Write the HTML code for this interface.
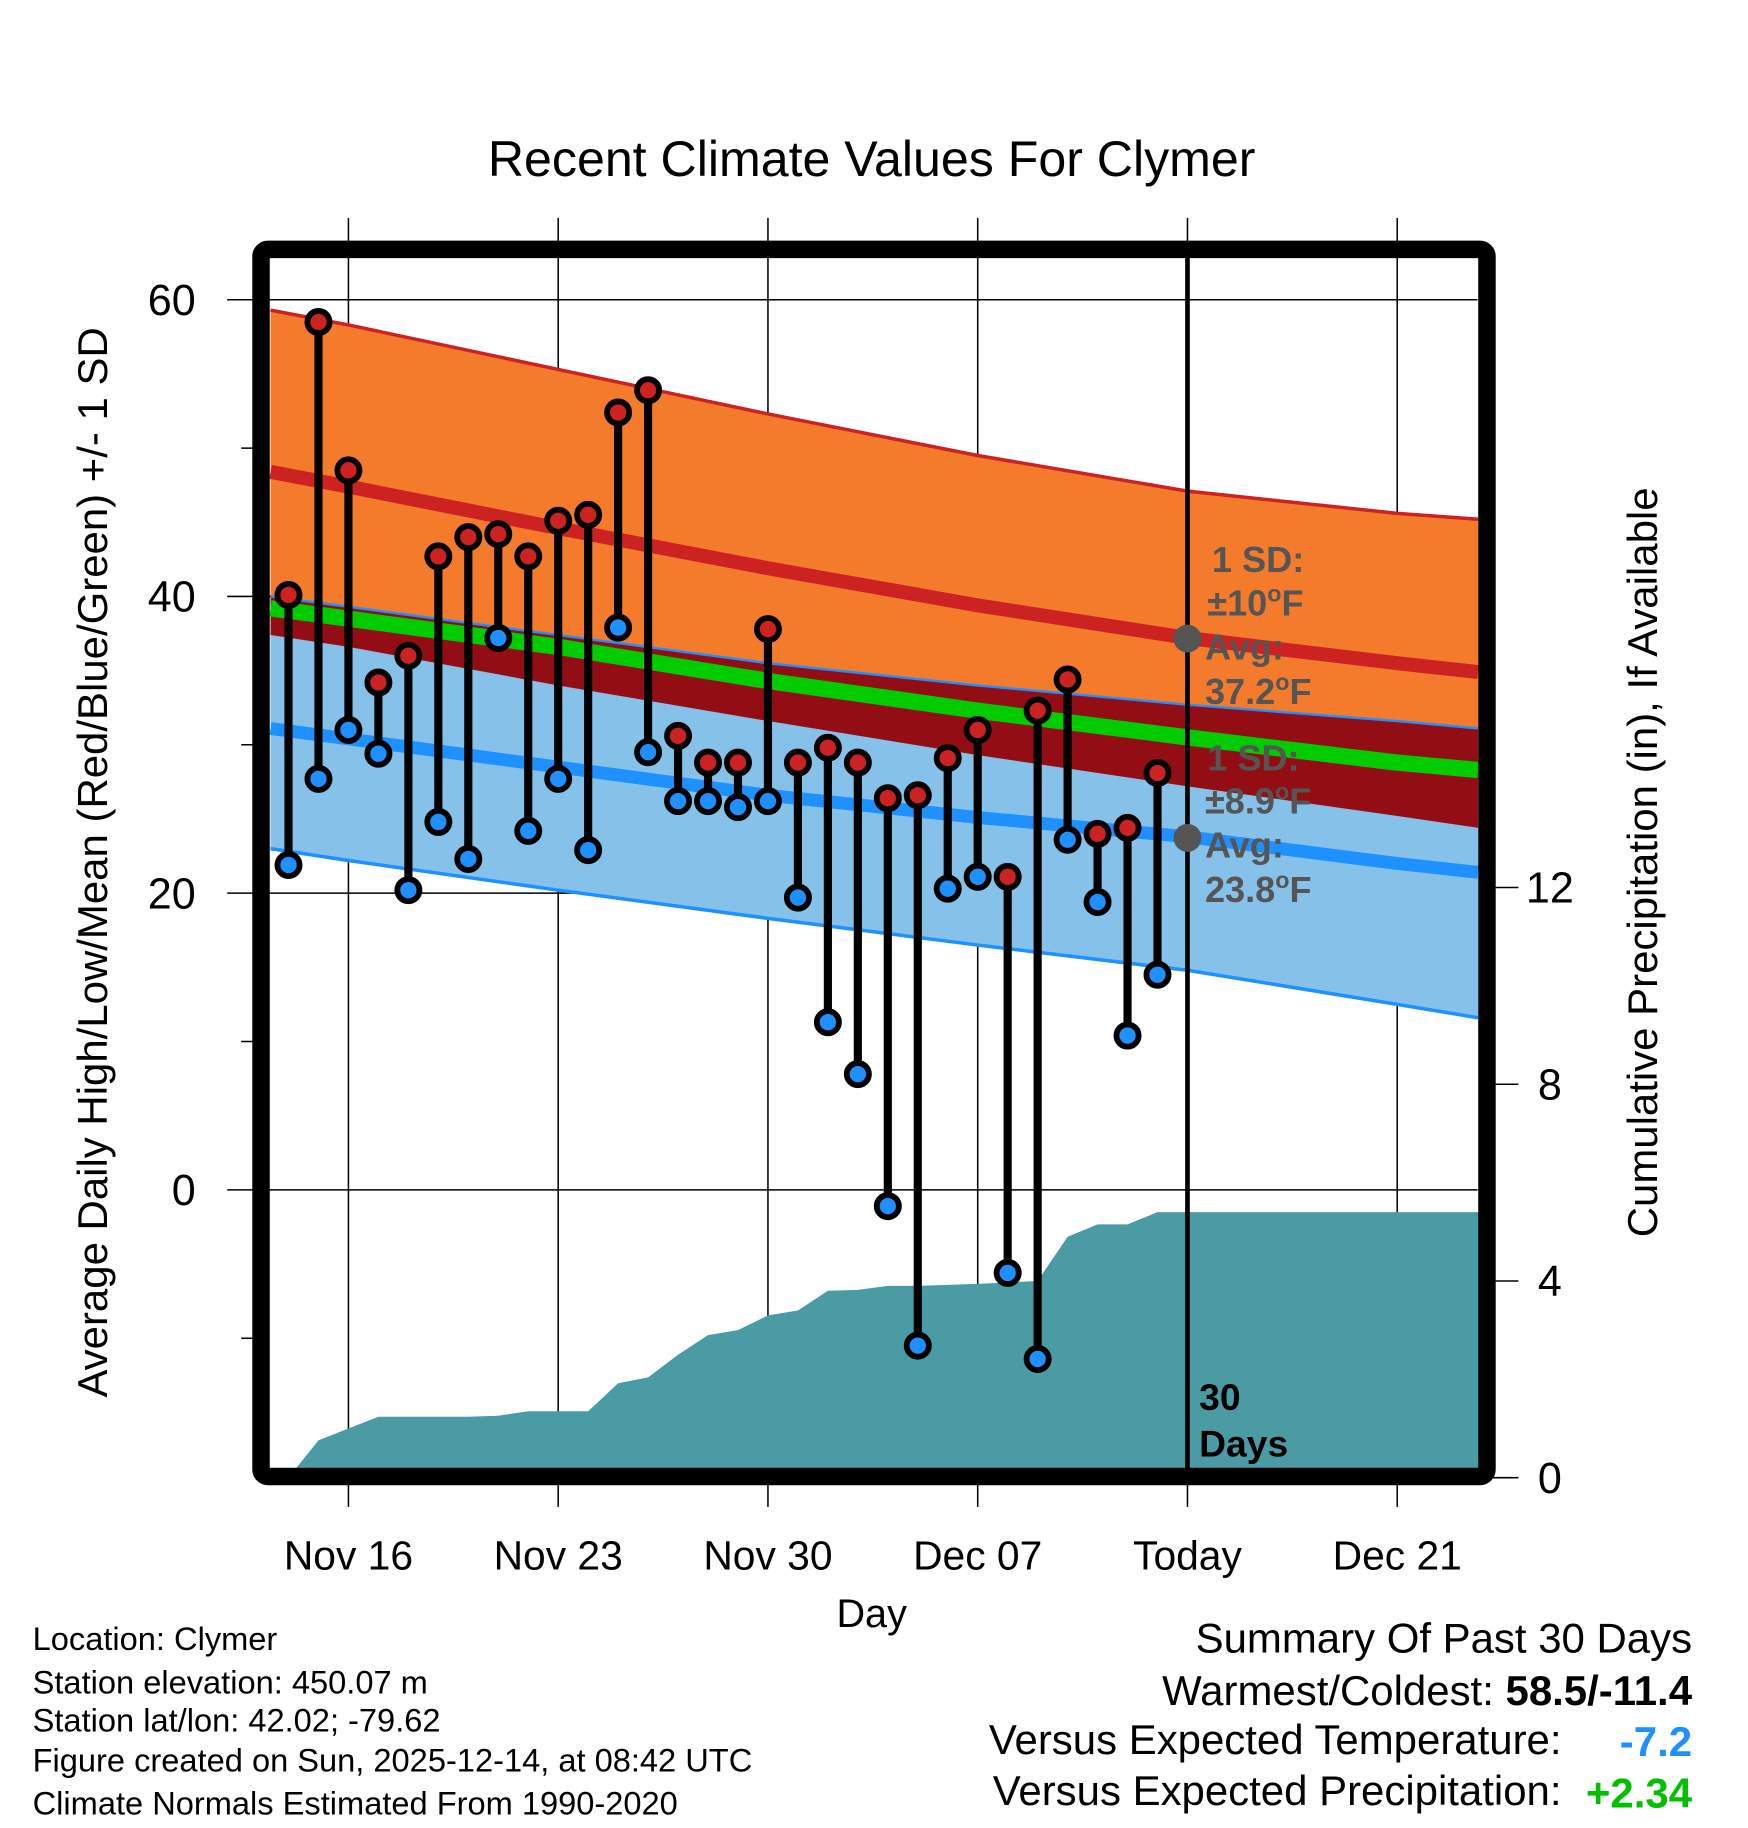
<!DOCTYPE html>
<html><head><meta charset="utf-8"><style>
html,body{margin:0;padding:0;background:#fff}
svg{display:block;font-family:"Liberation Sans",Arial,sans-serif}
</style></head><body>
<svg id="chart" width="1748" height="1828" viewBox="0 0 1500 1568.6" preserveAspectRatio="none" xmlns="http://www.w3.org/2000/svg">
<defs><clipPath id="plotclip"><rect x="231" y="221" width="1038" height="1039"/></clipPath></defs>
<text x="748" y="151" font-size="43" text-anchor="middle">Recent Climate Values For Clymer</text>
<g id="grid"></g>
<g id="bands" clip-path="url(#plotclip)"></g>
<g id="precip" clip-path="url(#plotclip)"></g>
<line x1="1019" y1="221" x2="1019" y2="1260" stroke="#000" stroke-width="4"/>
<g id="marks"></g>
<rect x="224" y="214" width="1052" height="1053" rx="6" fill="none" stroke="#000" stroke-width="15"/>
<g id="axes"></g>
<g fill="#555" font-size="31" font-weight="bold">
<circle cx="1019" cy="548" r="12" fill="#555"/>
<text x="1040" y="491">1 SD:</text>
<text x="1036" y="528">±10<tspan font-size="20" dy="-12">o</tspan><tspan dy="12">F</tspan></text>
<text x="1034" y="566">Avg:</text>
<text x="1034" y="604">37.2<tspan font-size="20" dy="-12">o</tspan><tspan dy="12">F</tspan></text>
</g>
<g fill="#555" font-size="31" font-weight="bold">
<circle cx="1019" cy="719" r="12" fill="#555"/>
<text x="1036" y="661">1 SD:</text>
<text x="1034" y="698">±8.9<tspan font-size="20" dy="-12">o</tspan><tspan dy="12">F</tspan></text>
<text x="1034" y="736">Avg:</text>
<text x="1034" y="774">23.8<tspan font-size="20" dy="-12">o</tspan><tspan dy="12">F</tspan></text>
</g>
<text x="1029" y="1210" font-size="32" font-weight="bold">30</text>
<text x="1029" y="1250" font-size="32" font-weight="bold">Days</text>
<text x="748" y="1396" font-size="34" text-anchor="middle">Day</text>
<text transform="translate(92,740) rotate(-90)" font-size="36" text-anchor="middle">Average Daily High/Low/Mean (Red/Blue/Green) +/- 1 SD</text>
<text transform="translate(1422,740) rotate(-90)" font-size="36" text-anchor="middle">Cumulative Precipitation (in), If Available</text>
<g font-size="28">
<text x="28" y="1416">Location: Clymer</text>
<text x="28" y="1453">Station elevation: 450.07 m</text>
<text x="28" y="1486">Station lat/lon: 42.02; -79.62</text>
<text x="28" y="1520">Figure created on Sun, 2025-12-14, at 08:42 UTC</text>
<text x="28" y="1557">Climate Normals Estimated From 1990-2020</text>
</g>
<g font-size="36" text-anchor="end">
<text x="1452" y="1418">Summary Of Past 30 Days</text>
<text x="1452" y="1463">Warmest/Coldest: <tspan font-weight="bold">58.5/-11.4</tspan></text>
<text x="1340" y="1505">Versus Expected Temperature:</text>
<text x="1452" y="1507" fill="#1e90ff" font-weight="bold">-7.2</text>
<text x="1340" y="1549">Versus Expected Precipitation:</text>
<text x="1452" y="1551" fill="#00c000" font-weight="bold">+2.34</text>
</g>
</svg>
<script>
const NS="http://www.w3.org/2000/svg";
// data: day index relative to Nov 16
const days=[-2,-1,0,1,2,3,4,5,6,7,8,9,10,11,12,13,14,15,16,17,18,19,20,21,22,23,24,25,26,27];
const highs=[40.1,58.5,48.5,34.2,36.0,42.7,44.0,44.2,42.7,45.1,45.5,52.4,53.9,30.6,28.8,28.8,37.8,28.8,29.8,28.8,26.4,26.6,29.1,31.0,21.1,32.3,34.4,24.0,24.4,28.1];
const lows=[21.9,27.7,31.0,29.4,20.2,24.8,22.3,37.2,24.2,27.7,22.9,37.9,29.5,26.2,26.2,25.8,26.2,19.7,11.3,7.8,-1.1,-10.5,20.3,21.1,-5.6,-11.4,23.6,19.4,10.4,14.5];
const precip=[0,0.76,1.0,1.24,1.24,1.24,1.24,1.26,1.35,1.35,1.35,1.92,2.04,2.5,2.9,3.0,3.3,3.4,3.8,3.82,3.9,3.9,3.92,3.94,3.97,4.0,4.9,5.15,5.15,5.4];
const normDays=[-2.6,0,7,14,21,28,35,37.7];
const highUp=[59.3,58.3,55.3,52.3,49.5,47.1,45.6,45.2];
const highMean=[48.4,47.4,44.6,41.9,39.4,37.2,35.5,34.9];
const highLo=[37.4,36.6,34.0,31.6,29.3,27.2,25.2,24.4];
const lowUp=[40.0,39.3,37.4,35.5,34.0,32.7,31.6,31.1];
const meanT=[39.2,38.5,36.6,34.3,32.3,30.5,28.8,28.3];
const lowMean=[31.1,30.4,28.5,26.6,25.1,23.8,22.0,21.4];
const lowLo=[23.0,22.2,20.2,18.3,16.5,14.8,12.5,11.6];
const xTickDays=[0,7,14,21,28,35];
const xTickLabels=["Nov 16","Nov 23","Nov 30","Dec 07","Today","Dec 21"];
const yTicks=[60,40,20,0];
const yMinor=[50,30,10,-10];
const y2Ticks=[0,4,8,12];

const X=d=>299+d*25.714;
const Y=t=>1021-t*12.73;
const Y2=p=>1268-p*42.2;
function mk(tag,attrs,parent){const e=document.createElementNS(NS,tag);for(const k in attrs)e.setAttribute(k,attrs[k]);parent.appendChild(e);return e;}
const grid=document.getElementById('grid'),bands=document.getElementById('bands'),pr=document.getElementById('precip'),marks=document.getElementById('marks'),axes=document.getElementById('axes');
yTicks.forEach(t=>{const l=mk('line',{x1:195,x2:1268,y1:Y(t),y2:Y(t),stroke:'#000','stroke-width':1.3},grid);

const tx=mk('text',{x:168,y:Y(t)+13,'font-size':37,'text-anchor':'end'},axes);tx.textContent=t;
});
yMinor.forEach(t=>{const l=mk('line',{x1:207,x2:224,y1:Y(t),y2:Y(t),stroke:'#000','stroke-width':1.3},axes);
});
xTickDays.forEach((d,i)=>{const l=mk('line',{x1:X(d),x2:X(d),y1:187,y2:1293,stroke:'#000','stroke-width':1.3},grid);

const tx=mk('text',{x:X(d),y:1347,'font-size':35,'text-anchor':'middle'},axes);tx.textContent=xTickLabels[i];
});
y2Ticks.forEach(p=>{const l=mk('line',{x1:1276,x2:1303,y1:Y2(p),y2:Y2(p),stroke:'#000','stroke-width':1.3},axes);

const tx=mk('text',{x:1330,y:Y2(p)+13,'font-size':37,'text-anchor':'middle'},axes);tx.textContent=p;
});
const pts=a=>normDays.map((d,i)=>X(d)+','+Y(a[i]));
function band(up,lo,col,name){const p=mk('polygon',{points:pts(up).concat(pts(lo).reverse()).join(' '),fill:col},bands);
}
band(highLo,lowLo,'#85c1e9','low-sd-band');
band(lowUp,highLo,'#930d14','overlap-band');
band(highUp,lowUp,'#f47a2c','high-sd-band');
function line(a,col,w,name){const p=mk('polyline',{points:pts(a).join(' '),fill:'none',stroke:col,'stroke-width':w},bands);
}
line(highUp,'#cc2222',3,'high-upper-line');
line(lowUp,'#1e90ff',2,'low-upper-line');
line(lowLo,'#1e90ff',3,'low-lower-line');
line(highMean,'#cc2222',12,'high-mean-line');
line(lowMean,'#1e90ff',11,'low-mean-line');
line(meanT,'#00cc00',14,'mean-line');
let pp=[X(days[0])+','+1270];
days.forEach((d,i)=>pp.push(X(d)+','+Y2(precip[i])));
pp.push('1270,'+Y2(precip[precip.length-1]));pp.push('1270,1270');
const pa=mk('polygon',{points:pp.join(' '),fill:'#4a9ba4'},pr);

days.forEach((d,i)=>{const s=mk('line',{x1:X(d),x2:X(d),y1:Y(highs[i]),y2:Y(lows[i]),stroke:'#000','stroke-width':7},marks);
});
days.forEach((d,i)=>{
const h=mk('circle',{cx:X(d),cy:Y(highs[i]),r:9.5,fill:'#cc2222',stroke:'#000','stroke-width':5},marks);

const l=mk('circle',{cx:X(d),cy:Y(lows[i]),r:9.5,fill:'#1e90ff',stroke:'#000','stroke-width':5},marks);
});
</script>
</body></html>
